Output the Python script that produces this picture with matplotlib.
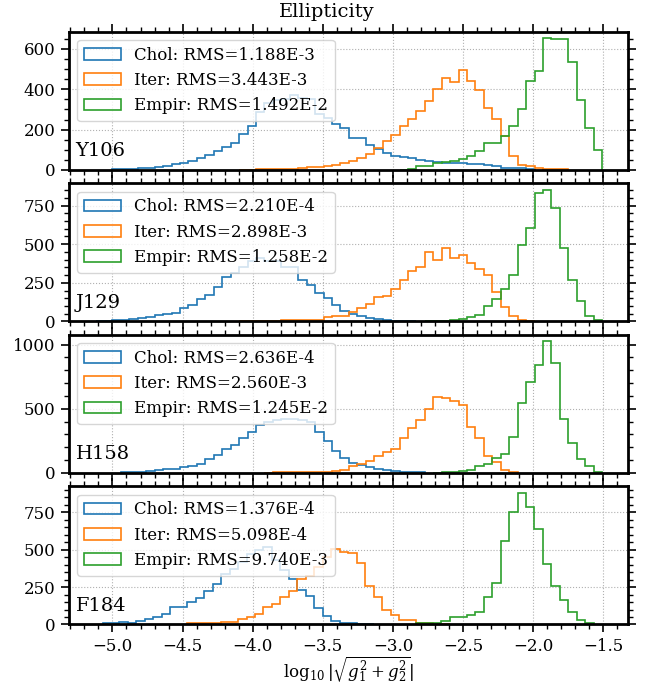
import numpy as np
import matplotlib
matplotlib.use("Agg")
import matplotlib.pyplot as plt
from matplotlib.ticker import MultipleLocator, AutoMinorLocator

# ---------------- data ----------------
filters = ["Y106", "J129", "H158", "F184"]
methods = ["Chol", "Iter", "Empir"]
rms_labels = [
    ["1.188E-3", "3.443E-3", "1.492E-2"],
    ["2.210E-4", "2.898E-3", "1.258E-2"],
    ["2.636E-4", "2.560E-3", "1.245E-2"],
    ["1.376E-4", "5.098E-4", "9.740E-3"],
]
# histogram bin grid per panel (log10 |g|)
bin_lo = [-5.0, -5.0, -5.0, -5.071]
bin_width = [0.0602, 0.0602, 0.0602, 0.0604]

# first bin index of each series and its counts
y106_first = [0, 15, 34]
y106_chol = [3, 5, 6, 8, 11, 15, 20, 27, 35, 45, 58, 72, 92, 112, 133, 180, 217, 287, 330, 345,
             350, 372, 358, 350, 275, 258, 228, 208, 158, 158, 125, 105, 83, 70, 63, 58, 50, 45, 38, 35,
             33, 32, 30, 27, 23, 17, 12, 10, 8, 6]
y106_iter = [2, 2, 3, 3, 4, 4, 6, 12, 14, 15, 17, 25, 32, 45, 58, 78, 108, 145, 175, 220,
             253, 292, 342, 400, 455, 438, 495, 442, 397, 305, 253, 170, 70, 25, 17, 8, 6, 4, 3]
y106_empir = [2, 3, 17, 20, 33, 37, 42, 55, 67, 92, 133, 133, 170, 217, 300, 442, 492, 653, 650, 647,
              533, 347, 208, 100]

j129_first = [-2, 15, 37]
j129_chol = [6, 6, 8, 10, 15, 22, 30, 39, 50, 56, 87, 109, 143, 174, 225, 290, 315, 350, 392, 408,
             393, 393, 354, 354, 271, 235, 185, 150, 105, 68, 48, 33, 22, 13, 9, 6, 4, 2]
j129_iter = [2, 2, 3, 3, 6, 8, 9, 10, 11, 12, 30, 33, 37, 59, 85, 113, 157, 167, 211, 265,
             326, 352, 450, 400, 472, 413, 428, 378, 341, 298, 189, 96, 37, 9, 4]
j129_empir = [2, 3, 5, 8, 13, 26, 41, 102, 146, 211, 298, 493, 607, 830, 852, 733, 472, 270, 135, 37, 11]

h158_first = [1, 18, 38]
h158_chol = [5, 7, 9, 16, 21, 28, 33, 45, 52, 73, 112, 138, 190, 217, 269, 321, 370, 395, 415, 420,
             420, 415, 395, 320, 250, 175, 120, 75, 62, 48, 28, 21, 15, 10, 6, 4]
h158_iter = [3, 4, 5, 5, 6, 7, 8, 10, 13, 21, 52, 73, 91, 130, 164, 190, 269, 347, 412, 496,
             595, 582, 564, 530, 360, 269, 130, 86, 26, 8]
h158_empir = [3, 5, 8, 13, 21, 52, 73, 115, 151, 277, 548, 705, 843, 1026, 856, 418, 230, 112, 52, 10]

f184_first = [0, 10, 37]
f184_chol = [8, 12, 14, 12, 22, 34, 52, 68, 119, 119, 150, 177, 222, 272, 335, 372, 420, 470, 500, 520,
             430, 367, 305, 230, 190, 110, 60, 25, 12, 8, 5, 3]
f184_iter = [11, 11, 12, 13, 14, 18, 34, 52, 68, 119, 135, 185, 225, 305, 325, 385, 450, 505, 485, 480,
             412, 254, 187, 97, 63, 30, 29, 11, 8, 5, 3]
f184_empir = [11, 11, 11, 25, 52, 52, 63, 86, 187, 277, 558, 750, 880, 784, 637, 401, 254, 164, 86, 29, 7]

first_bins = [y106_first, j129_first, h158_first, f184_first]
counts = [
    [y106_chol, y106_iter, y106_empir],
    [j129_chol, j129_iter, j129_empir],
    [h158_chol, h158_iter, h158_empir],
    [f184_chol, f184_iter, f184_empir],
]
y_major = [200, 250, 500, 250]

# ---------------- plot ----------------
plt.rcParams["font.family"] = ["DejaVu Serif"]
plt.rcParams["mathtext.fontset"] = "dejavuserif"

fig, axes = plt.subplots(4, 1, figsize=(6.54, 6.87), dpi=100, sharex=True)
fig.subplots_adjust(left=0.1055, right=0.960, top=0.9539, bottom=0.0910, hspace=0.096)

colors = ["C0", "C1", "C2"]
for p, ax in enumerate(axes):
    for s in range(3):
        c = np.asarray(counts[p][s], dtype=float)
        idx = first_bins[p][s] + np.arange(len(c) + 1)
        edges = bin_lo[p] + bin_width[p] * idx
        centers = 0.5 * (edges[:-1] + edges[1:])
        ax.hist(centers, bins=edges, weights=c, histtype="step", color=colors[s],
                lw=1.2, label=f"{methods[s]}: RMS={rms_labels[p][s]}")
    ax.yaxis.set_major_locator(MultipleLocator(y_major[p]))
    ax.yaxis.set_minor_locator(AutoMinorLocator())
    ax.xaxis.set_major_locator(MultipleLocator(0.5))
    ax.xaxis.set_minor_locator(AutoMinorLocator())
    ax.grid(True, which="major", ls=":", color="#b0b0b0", lw=0.8)
    ax.tick_params(which="both", direction="out", top=True, right=True, labelsize=12)
    ax.tick_params(which="major", length=5.5, width=1.2, pad=4)
    ax.tick_params(which="minor", length=3.5, width=1.0)
    for sp in ax.spines.values():
        sp.set_linewidth(2.0)
    ax.legend(loc="upper left", fontsize=12, handlelength=2.2)
    ax.text(0.012, 0.10, filters[p], transform=ax.transAxes, fontsize=14,
            ha="left", va="baseline")

axes[-1].set_xlim(-5.31, -1.325)
axes[-1].set_xlabel(r"$\log_{10}|\sqrt{g_1^2+g_2^2}|$", fontsize=12, labelpad=0)
fig.suptitle("Ellipticity", fontsize=14, y=0.982, va="center")

fig.savefig("out.png", dpi=100)
